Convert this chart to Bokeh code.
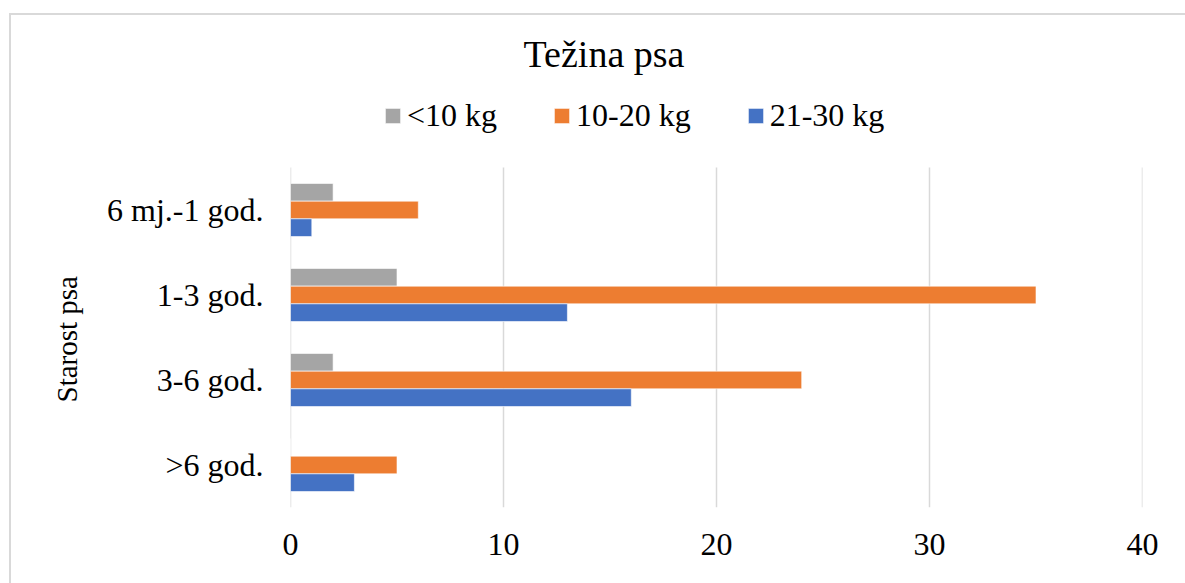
from bokeh.plotting import figure
from bokeh.models import Range1d, FixedTicker, Legend, LegendItem, Label, Title
from bokeh.embed import file_html
from bokeh.resources import INLINE

# ---- data ----
categories = ["6 mj.-1 god.", "1-3 god.", "3-6 god.", ">6 god."]   # top to bottom
series_names = ["<10 kg", "10-20 kg", "21-30 kg"]
under10 = [2, 5, 2, 0]
w10_20 = [6, 35, 24, 5]
w21_30 = [1, 13, 16, 3]
colors = ["#A5A5A5", "#ED7D31", "#4472C4"]
x_ticks = [0, 10, 20, 30, 40]

FONT = "Liberation Serif"

n = len(categories)
pos = [n - 1 - i for i in range(n)]          # numeric slot of each category (top = highest)
# plot area: 167..507 px for the categories; the area above holds title and legend
px_per_cat = (507 - 167) / n
y_top = (n - 0.5) + 167 / px_per_cat

p = figure(width=1185, height=583, output_backend="svg", toolbar_location=None,
           x_range=Range1d(0, 40), y_range=Range1d(-0.5, y_top),
           min_border_left=290, min_border_right=43, min_border_top=0, min_border_bottom=76)
p.border_fill_color = None
p.background_fill_color = None
p.outline_line_color = None
p.styles = {
    "background-color": "white",
    "background-image": "linear-gradient(#d9d9d9,#d9d9d9), linear-gradient(#d9d9d9,#d9d9d9)",
    "background-size": "2px calc(100% - 13px), calc(100% - 9px) 2px",
    "background-position": "9px 13px, 9px 13px",
    "background-repeat": "no-repeat, no-repeat",
}

# vertical grid lines limited to the category area
p.segment(x0=x_ticks, x1=x_ticks, y0=[-0.5] * len(x_ticks), y1=[n - 0.5] * len(x_ticks),
          line_color="#d9d9d9", line_width=1.5)

bh = 0.208
renderers = []
for vals, off, col in zip([under10, w10_20, w21_30], [bh, 0.0, -bh], colors):
    r = p.hbar(y=[q + off for q in pos], right=vals, left=0, height=bh,
               fill_color=col, line_color="white", line_width=0.6)
    renderers.append(r)

# axes
p.xaxis.ticker = FixedTicker(ticks=x_ticks)
p.yaxis.ticker = FixedTicker(ticks=pos)
p.yaxis.major_label_overrides = {q: c for q, c in zip(pos, categories)}
p.yaxis.bounds = (-0.5, n - 0.5)
for ax in [p.xaxis[0], p.yaxis[0]]:
    ax.axis_line_color = None
    ax.major_tick_line_color = None
    ax.minor_tick_line_color = None
    ax.major_tick_out = 0
    ax.major_tick_in = 0
    ax.major_label_text_font = FONT
    ax.major_label_text_font_size = "32px"
    ax.major_label_text_color = "black"
p.xaxis.major_label_standoff = 26
p.yaxis.major_label_standoff = 27

# y axis title, placed beside the category area
p.add_layout(Title(text="Starost psa", align="left", offset=105, standoff=44,
                   text_font=FONT, text_font_size="29px", text_font_style="normal",
                   text_color="black"), "left")

p.xgrid.grid_line_color = None
p.ygrid.grid_line_color = None

# legend
legend = Legend(items=[LegendItem(label=s, renderers=[r]) for s, r in zip(series_names, renderers)],
                orientation="horizontal", location=(93, 373),
                glyph_width=19, glyph_height=19, label_standoff=5, spacing=55,
                padding=0, margin=0, border_line_color=None, background_fill_color=None,
                label_text_font=FONT, label_text_font_size="32px", label_text_color="black")
p.add_layout(legend, "center")

# title
p.add_layout(Label(x=313.5, y=453.5, x_units="screen", y_units="screen", text="Težina psa",
                   text_align="center", text_baseline="alphabetic",
                   text_font=FONT, text_font_size="38px", text_color="black"))

open("out.html", "w").write(file_html(p, INLINE))
